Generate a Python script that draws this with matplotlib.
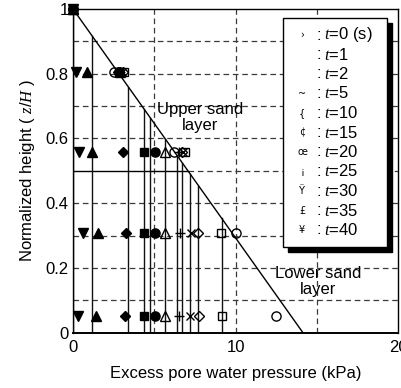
import matplotlib
matplotlib.use("Agg")
import matplotlib.pyplot as plt
from matplotlib.patches import Rectangle

plt.rcParams['font.family'] = ['Liberation Sans', 'DejaVu Sans']
plt.rcParams['mathtext.fontset'] = 'custom'
plt.rcParams['mathtext.it'] = 'Liberation Serif:italic'
plt.rcParams['mathtext.rm'] = 'Liberation Serif'

# elapsed times (s) and the symbol used for each
times = [0, 1, 2, 5, 10, 15, 20, 25, 30, 35, 40]
legend_glyphs = ["\u203a", "", "", "~", "{", "\u00a2", "\u0153", "\u00a1", "\u0178", "\u00a3", "\u00a5"]
markers = ['v', '^', 'D', 's', 'o', '^', '+', 'x', 'D', 's', 'o']
filled = [True, True, True, True, True, False, False, False, False, False, False]

# measurement heights (z/H)
heights = [1.0, 0.806, 0.557, 0.307, 0.053]

# excess pore water pressure (kPa) at each height, one list per time
u_t0 = [0.0, 0.19, 0.37, 0.64, 0.33]
u_t1 = [0.0, 0.88, 1.19, 1.52, 1.42]
u_t2 = [0.0, 2.75, 3.10, 3.27, 3.17]
u_t5 = [0.0, 2.85, 4.38, 4.38, 4.38]
u_t10 = [0.0, 2.80, 5.02, 5.02, 5.03]
u_t15 = [0.0, 2.90, 5.66, 5.68, 5.68]
u_t20 = [0.0, 2.90, 6.50, 6.60, 6.51]
u_t25 = [0.0, 3.00, 6.75, 7.26, 7.22]
u_t30 = [0.0, 3.05, 6.70, 7.68, 7.73]
u_t35 = [0.0, 3.15, 6.88, 9.10, 9.17]
u_t40 = [0.0, 2.50, 6.20, 10.00, 12.47]
pressures = [u_t0, u_t1, u_t2, u_t5, u_t10, u_t15, u_t20, u_t25, u_t30, u_t35, u_t40]

# computed uniform pressure in the lower layer for each time (kPa)
u_profile = [0.0, 1.19, 3.40, 4.38, 4.75, 5.68, 6.42, 6.73, 7.22, 7.72, 9.14]

# initial effective overburden at the base (kPa)
sigma_base = 14.15
layer_boundary = 0.5

fig = plt.figure(figsize=(4.01, 3.88), dpi=100)
ax = fig.add_axes([73 / 401, (388 - 332.7) / 388, (398 - 73) / 401, (332.7 - 9) / 388])
ax.set_xlim(0, 20)
ax.set_ylim(0, 1)

grid_kw = dict(color='#3a3a3a', lw=0.9, dashes=(4.5, 3), zorder=1)
for gx in [5, 10, 15]:
    ax.axvline(gx, **grid_kw)
for gy in [0.1, 0.2, 0.3, 0.4, 0.6, 0.7, 0.8, 0.9]:
    ax.axhline(gy, **grid_kw)

def sigma_at(z):
    return sigma_base * (1 - z)

# layer boundary: solid up to the effective-stress line, dashed beyond
xb = sigma_at(layer_boundary)
ax.plot([0, xb], [layer_boundary, layer_boundary], color='black', lw=1.0, zorder=2)
ax.plot([xb, 20], [layer_boundary, layer_boundary], **grid_kw)

# initial effective stress line
ax.plot([0, sigma_base], [1, 0], color='black', lw=1.0, zorder=3)

# pressure profiles: uniform value capped by the effective stress
for xp in u_profile:
    ax.plot([xp, xp], [0, 1 - xp / sigma_base], color='#111111', lw=1.0, zorder=2)

sizes = {'v': 7, '^': 7, 'D': 5.3, 's': 6.2, 'o': 6.6, '+': 7, 'x': 6}
for m, f, u in zip(markers, filled, pressures):
    ax.plot(u, heights, linestyle='none', marker=m, ms=sizes[m],
            mfc='black' if f else 'none', mec='black', mew=1.0,
            clip_on=False, zorder=5)

ax.set_xticks([0, 10, 20])
ax.set_xticklabels(['0', '10', '20'])
ax.set_yticks([0, 0.2, 0.4, 0.6, 0.8, 1.0])
ax.set_yticklabels(['0', '0.2', '0.4', '0.6', '0.8', '1'])
ax.tick_params(axis='x', length=0, pad=5, labelsize=12)
ax.tick_params(axis='y', length=0, pad=3, labelsize=12)
for sp in ax.spines.values():
    sp.set_linewidth(1.0)
ax.spines['bottom'].set_linewidth(1.4)

ax.set_xlabel('Excess pore water pressure (kPa)', fontsize=12, labelpad=8)
ax.set_ylabel('Normalized height ( $z$/$H$ )', fontsize=12, labelpad=6)

ax.text(7.84, 0.664, 'Upper sand\nlayer', ha='center', va='center', fontsize=12,
        linespacing=1.05, zorder=4)
ax.text(15.1, 0.158, 'Lower sand\nlayer', ha='center', va='center', fontsize=12,
        linespacing=1.05, zorder=4)

# boxed key with drop shadow
def ax_x(px):
    return (px - 73) / 325

def ax_y(py):
    return (332.7 - py) / 323.7

bx0, bx1 = ax_x(283), ax_x(386.7)
by0, by1 = ax_y(246.7), ax_y(18)
sh = 5
ax.add_patch(Rectangle((ax_x(283 + sh), ax_y(246.7 + sh)), bx1 - bx0, by1 - by0,
                       transform=ax.transAxes, facecolor='black', edgecolor='black',
                       zorder=8, clip_on=False))
ax.add_patch(Rectangle((bx0, by0), bx1 - bx0, by1 - by0, transform=ax.transAxes,
                       facecolor='white', edgecolor='black', lw=1.0, zorder=9,
                       clip_on=False))
for i, (t, g) in enumerate(zip(times, legend_glyphs)):
    py = 35 + i * 19.5
    ax.text(ax_x(302), ax_y(py), g, transform=ax.transAxes, fontsize=7,
            ha='center', va='center', zorder=10, family=['DejaVu Sans'])
    label = '$t$=%d' % t + (' (s)' if t == 0 else '')
    ax.text(ax_x(316), ax_y(py), ':', transform=ax.transAxes, fontsize=12,
            ha='left', va='center', zorder=10)
    ax.text(ax_x(324), ax_y(py), label, transform=ax.transAxes, fontsize=12,
            ha='left', va='center', zorder=10)

fig.savefig('out.png', dpi=100)
